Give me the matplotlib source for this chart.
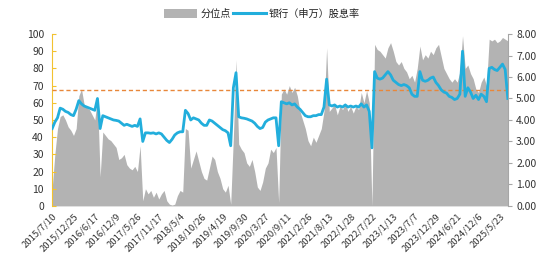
import matplotlib
matplotlib.use("Agg")
import matplotlib.pyplot as plt
import numpy as np
from matplotlib.patches import Patch
from matplotlib.lines import Line2D

plt.rcParams['font.family'] = ['Noto Sans CJK SC', 'DejaVu Sans']

# ---- data (sampled roughly every 3 weeks, 2015/7 -> 2025/7) ----
percentile = [
    10, 30, 45, 52, 53, 50, 46, 44, 41, 45,
    64, 68, 59, 57, 56, 53, 50, 63, 17, 43,
    41, 39, 38, 36, 34, 27, 28, 30, 24, 22,
    21, 23, 20, 35, 3, 10, 7, 9, 5, 8,
    4, 7, 9, 3, 1, 0.5, 1, 6, 9, 8,
    45, 44, 22, 27, 32, 26, 20, 16, 15, 22,
    29, 27, 20, 16, 10, 8, 12, 1, 40, 85,
    36, 33, 31, 25, 23, 27, 20, 11, 9, 14,
    22, 25, 33, 31, 34, 2, 65, 68, 65, 70,
    66, 69, 64, 55, 50, 45, 38, 35, 40, 37,
    41, 45, 55, 92, 55, 57, 59, 53, 58, 56,
    60, 55, 58, 54, 58, 56, 66, 60, 67, 60,
    0, 94, 91, 90, 88, 86, 92, 95, 90, 84,
    82, 84, 80, 78, 74, 76, 72, 80, 93, 85,
    88, 86, 90, 88, 92, 94, 87, 80, 77, 74,
    72, 74, 72, 78, 99, 80, 82, 77, 74, 68,
    66, 72, 75, 70, 97, 96, 97, 95, 96, 98,
    97, 96,
]

dividend_yield = [
    3.6, 3.9, 4.1, 4.55, 4.5, 4.4, 4.35, 4.25, 4.2, 4.5,
    4.9, 4.75, 4.65, 4.6, 4.55, 4.5, 4.45, 5.0, 3.6, 4.2,
    4.15, 4.1, 4.05, 4.0, 3.98, 3.95, 3.85, 3.75, 3.8, 3.75,
    3.7, 3.75, 3.7, 4.05, 3.0, 3.4, 3.4, 3.38, 3.4, 3.35,
    3.4, 3.35, 3.2, 3.05, 2.95, 3.1, 3.3, 3.4, 3.45, 3.45,
    4.45, 4.3, 4.0, 4.1, 4.05, 4.0, 3.85, 3.75, 3.75, 4.0,
    3.95, 3.85, 3.75, 3.65, 3.55, 3.5, 3.4, 2.8, 5.5, 6.2,
    4.15, 4.1, 4.08, 4.05, 4.0, 3.95, 3.85, 3.7, 3.6, 3.65,
    3.9, 4.0, 4.05, 4.1, 4.1, 2.8, 4.85, 4.8, 4.75, 4.8,
    4.7, 4.75, 4.6, 4.5, 4.35, 4.2, 4.15, 4.15, 4.2, 4.2,
    4.25, 4.25, 4.6, 5.9, 4.7, 4.65, 4.7, 4.6, 4.65, 4.6,
    4.7, 4.6, 4.65, 4.6, 4.65, 4.6, 4.75, 4.6, 4.7, 4.4,
    2.7, 6.25, 5.95, 5.9, 5.95, 6.1, 6.25, 6.1, 5.85, 5.75,
    5.65, 5.6, 5.65, 5.6, 5.5, 5.2, 5.1, 5.1, 6.25, 5.85,
    5.8, 5.85, 5.95, 6.0, 5.75, 5.6, 5.4, 5.3, 5.25, 5.1,
    5.05, 4.95, 5.0, 5.2, 7.2, 5.1, 5.5, 5.3, 5.0, 5.15,
    4.95, 5.2, 5.1, 4.85, 6.4, 6.45, 6.35, 6.3, 6.45, 6.6,
    6.35, 5.0,
]

threshold_percentile = 67.3

tick_labels = [
    "2015/7/10", "2015/12/25", "2016/6/17", "2016/12/9", "2017/5/26",
    "2017/11/17", "2018/5/4", "2018/10/26", "2019/4/19", "2019/9/30",
    "2020/3/27", "2020/9/11", "2021/2/26", "2021/8/13", "2022/1/28",
    "2022/7/22", "2023/1/13", "2023/7/7", "2023/12/29", "2024/6/21",
    "2024/12/6", "2025/5/23",
]

series_names = ["分位点", "银行（申万）股息率"]

# ---- styling ----
GRAY = "#B3B3B3"
BLUE = "#22AEDC"
ORANGE = "#E8873A"
GOLD = "#F2C230"
AXGRAY = "#A6A6A6"

n = len(percentile)
x = np.arange(n)
step = 8

fig = plt.figure(figsize=(5.55, 2.79), dpi=100)
ax = fig.add_axes([0.094, 0.262, 0.821, 0.616])
ax2 = ax.twinx()

ax.fill_between(x, 0, percentile, color=GRAY, linewidth=0, zorder=1)
ax.set_ylim(0, 100)
ax.set_yticks(np.arange(0, 101, 10))
ax.set_xlim(0, n - 1)
ax.set_xticks(np.arange(len(tick_labels)) * step)
ax.set_xticklabels(tick_labels, rotation=45, ha="right", rotation_mode="anchor",
                   fontsize=6.8, color="#333333")
ax.tick_params(axis="x", length=0, pad=4)
ax.tick_params(axis="y", direction="in", length=3, color=GOLD, labelsize=7.5, pad=6,
               labelcolor="#333333")

ax2.axhline(threshold_percentile * 0.08, color=ORANGE, linestyle=(0, (3, 2)),
            linewidth=1.0, zorder=2)
ax2.plot(x, dividend_yield, color=BLUE, linewidth=2.0, zorder=3)
ax2.set_ylim(0, 8)
ax2.set_yticks(np.arange(0, 8.01, 1))
ax2.set_yticklabels([f"{v:.2f}" for v in np.arange(0, 8.01, 1)])
ax2.tick_params(axis="y", direction="out", length=3, color=AXGRAY, labelsize=7.5, pad=3,
                labelcolor="#333333")

for a in (ax, ax2):
    a.spines["top"].set_visible(False)
    a.spines["bottom"].set_visible(False)
    a.set_facecolor("none")
ax.spines["right"].set_visible(False)
ax2.spines["left"].set_visible(False)
ax.spines["left"].set_color(GOLD)
ax2.spines["right"].set_color(AXGRAY)

handles = [Patch(facecolor=GRAY, edgecolor="none"),
           Line2D([0], [0], color=BLUE, linewidth=2.2)]
fig.legend(handles, series_names, loc="center", bbox_to_anchor=(0.472, 0.95),
           ncol=2, frameon=False, fontsize=7.3, handlelength=3.3, handleheight=0.9,
           columnspacing=0.2, handletextpad=0.3, labelcolor="#222222")

fig.savefig("out.png", dpi=100)
